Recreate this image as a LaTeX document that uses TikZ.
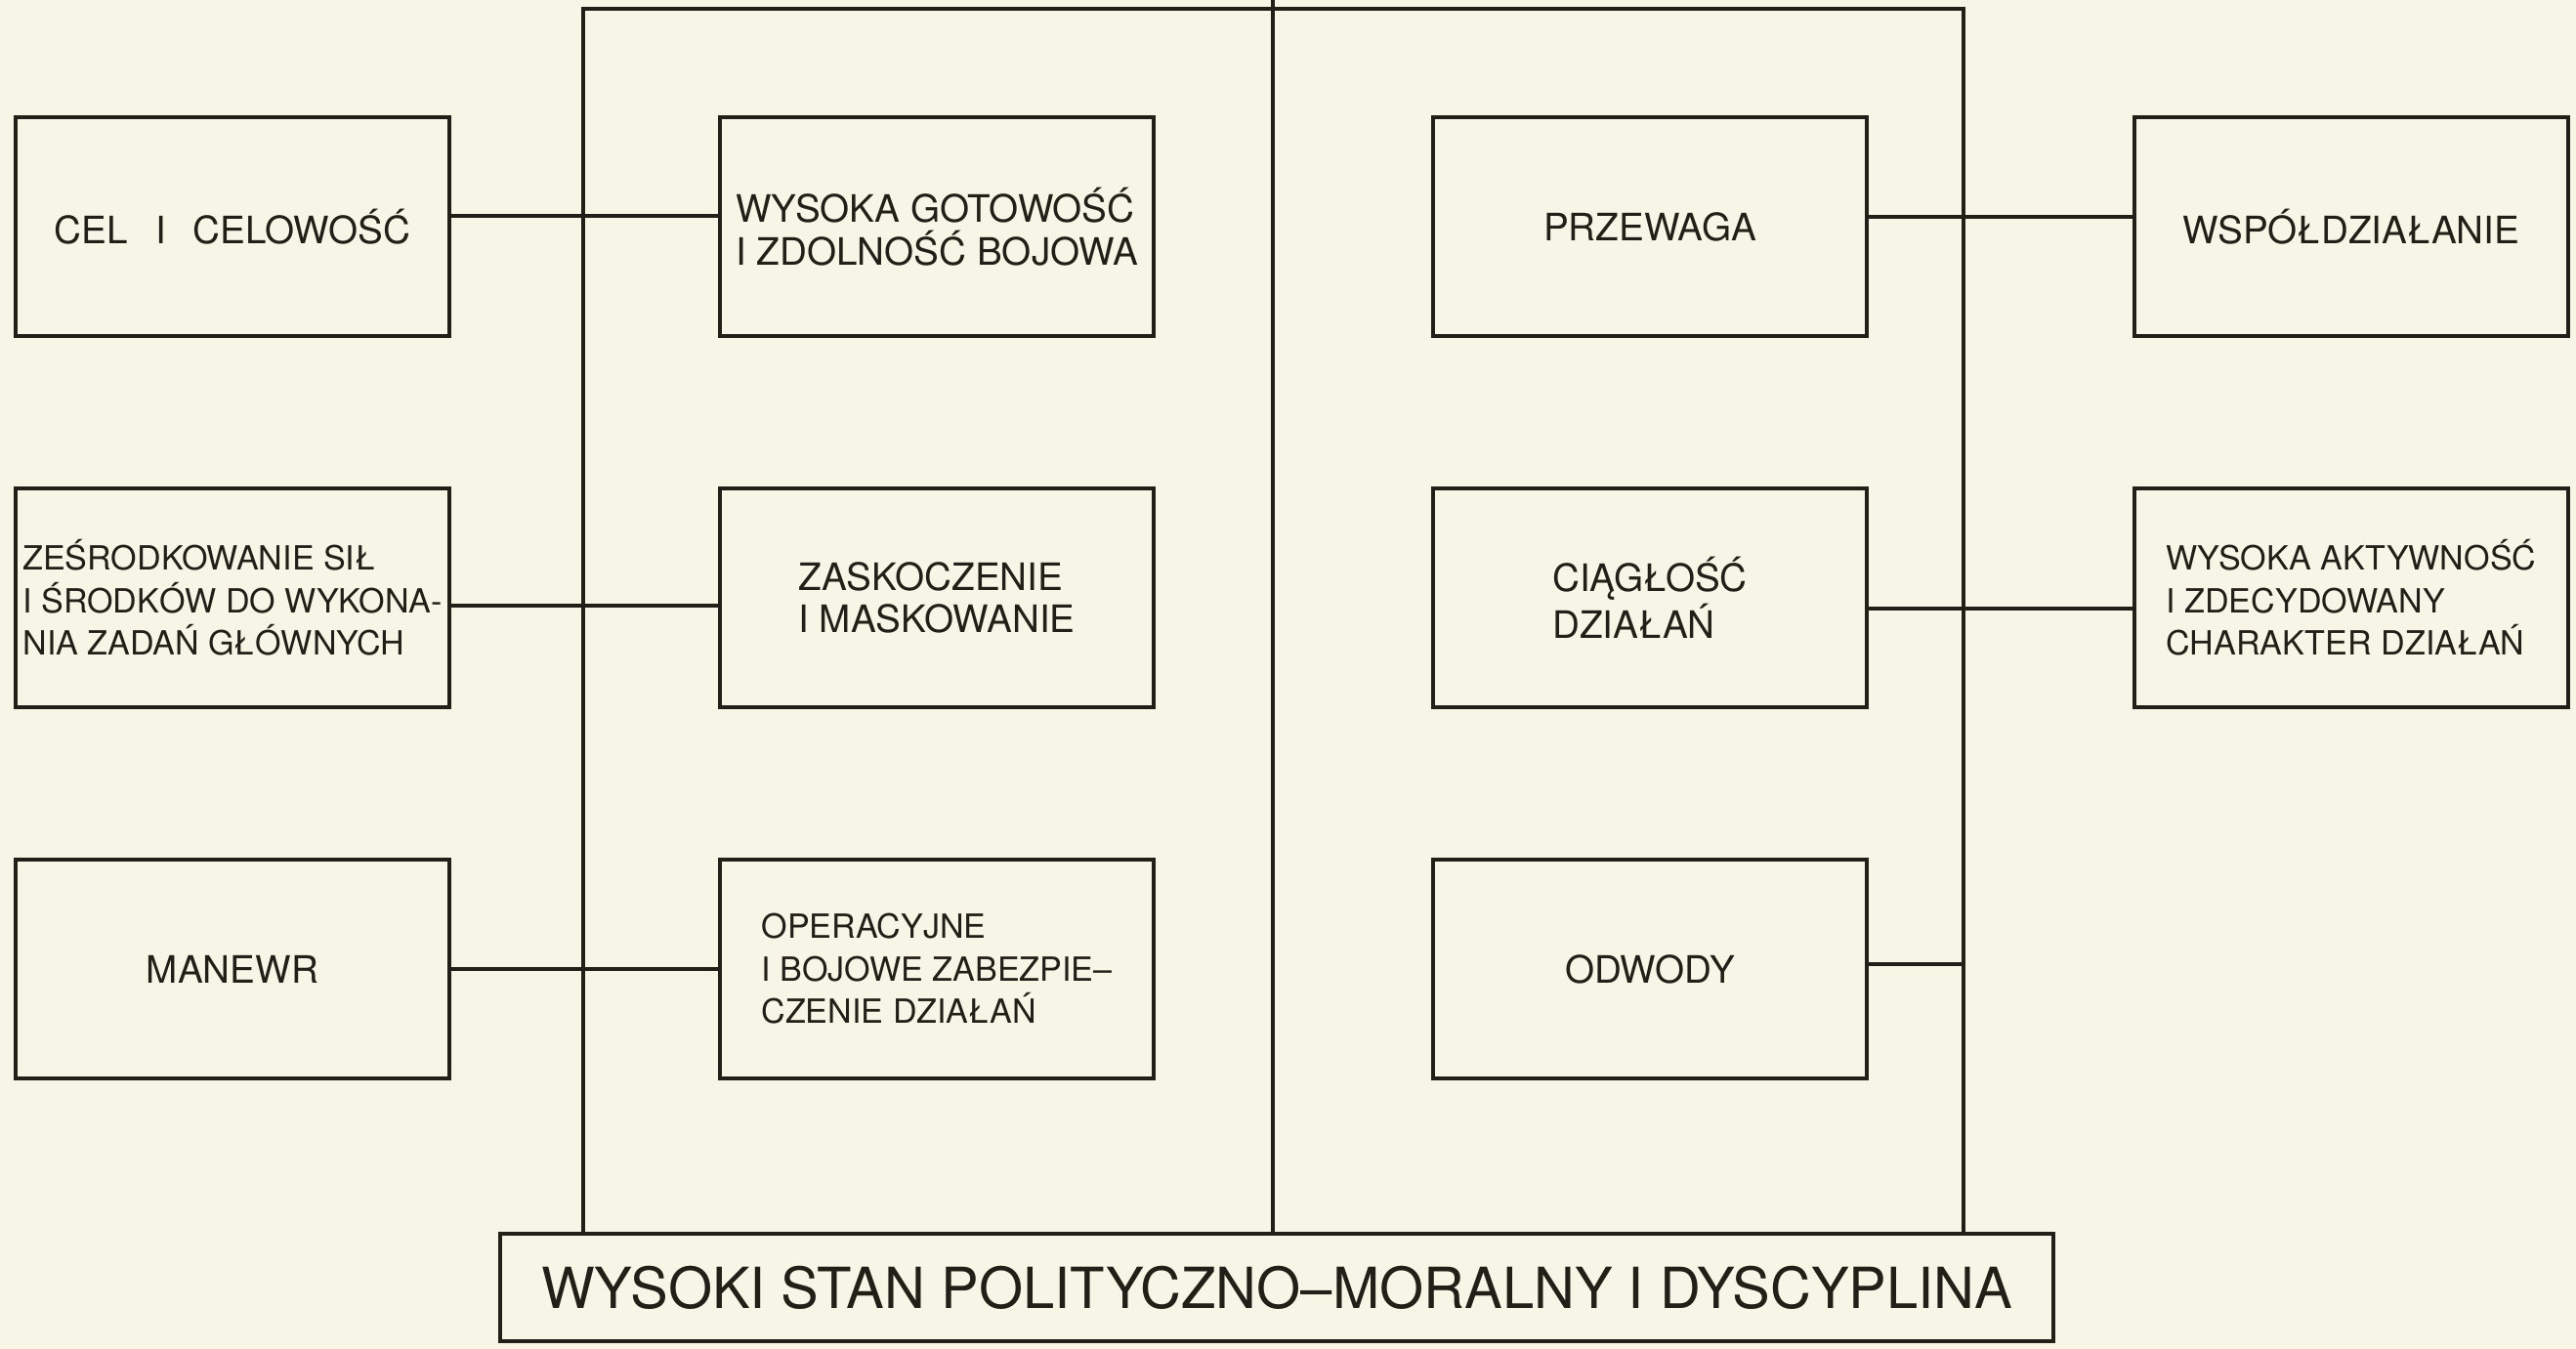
\documentclass[tikz,border=0pt]{standalone}
\usepackage{fontspec}
\setmainfont{TeX Gyre Heros}
\usetikzlibrary{positioning}
\definecolor{paper}{RGB}{247,246,230}
\definecolor{ink}{RGB}{34,30,24}

\begin{document}
\begin{tikzpicture}[node distance=3.8cm and 7.2cm, on grid,
   box/.style={draw=ink, line width=1.25pt, text=ink, minimum width=4.44cm, minimum height=2.24cm,
      inner sep=0pt, align=left, font=\fontsize{11}{12.4}\selectfont},
   small/.style={font=\fontsize{9.7}{12.4}\selectfont},
   link/.style={draw=ink, line width=1pt}]
   \useasboundingbox (0,0) rectangle (26.37,13.81);
   \fill[paper] (0,0) rectangle (26.37,13.81);

   % Left half
   \node[box] (cel) at (2.38,11.49) {CEL\hspace{8pt}I\hspace{8pt}CELOWOŚĆ};
   \node[box, small] (zesr) [below=of cel] {ZEŚRODKOWANIE SIŁ\\I ŚRODKÓW DO WYKONA-\\NIA ZADAŃ GŁÓWNYCH};
   \node[box] (manewr) [below=of zesr] {MANEWR};
   \node[box] (gotow) [right=7.21cm of cel] {WYSOKA GOTOWOŚĆ\\I ZDOLNOŚĆ BOJOWA};
   \node[box] (zask) [below=of gotow] {ZASKOCZENIE\\I MASKOWANIE};
   \node[box, small] (oper) [below=of zask] {OPERACYJNE\\I BOJOWE ZABEZPIE–\\CZENIE DZIAŁAŃ};

   % Right half
   \node[box] (przew) [right=7.30cm of gotow] {PRZEWAGA};
   \node[box] (ciagl) [below=of przew] {CIĄGŁOŚĆ\\DZIAŁAŃ};
   \node[box] (odwody) [below=of ciagl] {ODWODY};
   \node[box] (wspol) [right=7.18cm of przew] {WSPÓŁDZIAŁANIE};
   \node[box, small] (aktyw) [below=of wspol] {WYSOKA AKTYWNOŚĆ\\I ZDECYDOWANY\\CHARAKTER DZIAŁAŃ};

   % Base
   \node[box, line width=1.4pt, minimum width=15.9cm, minimum height=1.1cm, align=center,
      font=\fontsize{16.5}{19}\selectfont] (base) at (13.07,0.63)
      {WYSOKI STAN POLITYCZNO–MORALNY I DYSCYPLINA};

   % Frame
   \coordinate (tl) at (5.97,13.72);
   \coordinate (tr) at (20.10,13.72);
   \coordinate (tc) at (13.03,13.81);
   \draw[link] (tl |- base.north) -- (tl) -- (tr) -- (tr |- base.north);
   \draw[link] (tc) -- (tc |- base.north);

   % Row links
   \path[link]
   ([yshift=1.1mm]cel.east) edge ([yshift=1.1mm]gotow.west)
   ([yshift=-0.8mm]zesr.east) edge ([yshift=-0.8mm]zask.west)
   (manewr.east) edge (oper.west)
   ([yshift=1mm]przew.east) edge ([yshift=1mm]wspol.west)
   ([yshift=-1.1mm]ciagl.east) edge ([yshift=-1.1mm]aktyw.west)
   ([yshift=0.5mm]odwody.east) edge ([yshift=0.5mm]odwody.east -| tr);
\end{tikzpicture}
\end{document}
